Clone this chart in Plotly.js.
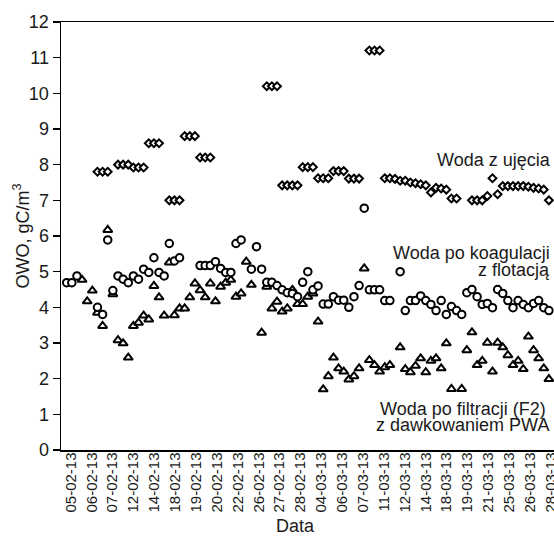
<!DOCTYPE html>
<html>
<head>
<meta charset="utf-8">
<script src="https://cdn.plot.ly/plotly-3.0.1.min.js"></script>
<style>html,body{margin:0;padding:0;overflow:hidden;background:#fff;width:554px;height:537px}</style>
</head>
<body>
<div id="chart" style="width:605px;height:537px"></div>
<script>
// Tick labels (dates)
const dateLabels = ["05-02-13","06-02-13","07-02-13","12-02-13","14-02-13","18-02-13","19-02-13","20-02-13","22-02-13","26-02-13","27-02-13","28-02-13","04-03-13","06-03-13","07-03-13","11-03-13","12-03-13","14-03-13","18-03-13","19-03-13","21-03-13","25-03-13","26-03-13","28-03-13"];

// Woda z ujęcia (diamonds), one value per sample (null = no measurement)
const wodaUjecie = [null,null,null,null,null,null,7.8,7.8,7.8,null,
  8.0,8.0,8.0,7.92,7.92,7.92,8.6,8.6,8.6,null,
  7.0,7.0,7.0,8.8,8.8,8.8,8.2,8.2,8.2,null,
  null,null,null,null,null,null,null,null,null,10.2,
  10.2,10.2,7.42,7.42,7.42,7.42,7.93,7.93,7.93,7.62,
  7.62,7.62,7.82,7.82,7.82,7.61,7.61,7.61,null,11.2,
  11.2,11.2,7.62,7.62,7.6,7.55,7.55,7.5,7.48,7.45,
  7.42,7.22,7.35,7.33,7.3,7.05,7.05,null,null,7.0,
  7.0,7.0,7.12,7.62,7.17,7.4,7.4,7.4,7.4,7.4,
  7.38,7.35,7.33,7.3,7.0];

// Woda po koagulacji z flotacją (circles)
const wodaKoagulacja = [4.69,4.69,4.88,null,null,null,4.0,3.8,5.89,4.47,
  4.88,4.79,4.69,4.88,4.79,5.07,4.98,5.39,4.98,4.88,
  5.79,5.3,5.39,null,null,null,5.17,5.17,5.17,5.28,
  5.09,4.98,4.98,5.79,5.89,null,5.07,5.7,5.07,4.7,
  4.7,4.61,4.49,4.41,4.39,4.3,4.7,5.0,4.49,4.6,
  4.09,4.09,4.3,4.2,4.2,4.0,4.3,4.61,6.78,4.49,
  4.49,4.49,4.19,4.19,null,5.0,3.91,4.19,4.19,4.32,
  4.19,4.08,3.91,4.19,3.8,4.02,3.91,3.8,4.41,4.5,
  4.3,4.08,4.11,3.99,4.5,4.39,4.19,3.99,4.19,4.08,
  3.99,4.11,4.19,3.99,3.91];

// Woda po filtracji (F2) z dawkowaniem PWA (triangles)
const wodaFiltracja = [null,null,null,4.77,4.17,4.47,3.85,3.48,6.17,4.37,
  3.08,2.99,2.59,3.48,3.57,3.77,3.66,4.6,4.28,3.77,
  5.26,3.78,3.97,3.97,4.28,4.67,4.48,4.28,4.67,4.17,
  4.58,4.69,4.77,4.3,4.39,5.28,4.63,null,3.29,4.58,
  3.97,4.16,3.88,3.97,4.49,4.09,4.09,4.3,4.39,3.6,
  1.70,2.07,2.59,2.29,2.2,1.98,2.07,2.29,5.09,2.52,
  2.38,2.2,2.32,2.38,null,2.88,2.27,2.18,2.36,2.57,
  2.18,2.5,2.57,2.29,2.99,1.71,null,1.71,2.8,3.3,
  2.38,2.5,3.01,2.2,3.01,2.88,2.66,2.38,2.5,2.27,
  3.18,2.8,2.57,2.29,1.99];

const sampleIndex = wodaUjecie.map((_, i) => i);

// layout constants
const FONT = "'Liberation Sans', Arial, sans-serif";
const TXT = '#1a1a1a';
const W = 605, H = 537;
const PL = 61, PT = 22, PB = 87;
const PW = W - PL, PH = H - PT - PB;
const TICK_START = 0.8, TICK_STEP = 4.07;
const tickPositions = dateLabels.map((_, k) => TICK_START + TICK_STEP * k);
const X0 = -1.11, PX_PER_SAMPLE = 5.13;

function mk(symbol, size) {
  return {symbol: symbol, size: size, color: '#fff', line: {color: '#000', width: 2}};
}

const traces = [
  {x: sampleIndex, y: wodaFiltracja, type: 'scatter', mode: 'markers', marker: mk('triangle-up', 8), hoverinfo: 'skip'},
  {x: sampleIndex, y: wodaKoagulacja, type: 'scatter', mode: 'markers', marker: mk('circle', 7.5), hoverinfo: 'skip'},
  {x: sampleIndex, y: wodaUjecie, type: 'scatter', mode: 'markers', marker: mk('diamond', 6), hoverinfo: 'skip'}
];

function ann(text, px, py, anchor, extra) {
  return Object.assign({
    text: text, xref: 'paper', yref: 'paper',
    x: (px - PL) / PW, y: (PT + PH - py) / PH,
    xanchor: anchor, yanchor: 'middle', showarrow: false, borderpad: 0,
    font: {family: FONT, size: 18, color: TXT}
  }, extra || {});
}

const layout = {
  width: W, height: H,
  margin: {l: PL, r: 0, t: PT, b: PB, pad: 0},
  paper_bgcolor: '#fff', plot_bgcolor: '#fff',
  showlegend: false,
  font: {family: FONT, color: TXT},
  xaxis: {
    range: [X0, X0 + PW / PX_PER_SAMPLE], showgrid: false, zeroline: false,
    showline: true, mirror: true, linecolor: '#000', linewidth: 1.5,
    ticks: '', tickmode: 'array', tickvals: tickPositions, ticktext: dateLabels,
    tickangle: -90, ticklabelstandoff: -5,
    tickfont: {family: FONT, size: 15, color: TXT}
  },
  yaxis: {
    range: [0, 12], dtick: 1, showgrid: false, zeroline: false,
    showline: true, linecolor: '#000', linewidth: 1.5,
    ticks: 'outside', ticklen: 7, tickwidth: 1.5, tickcolor: '#000',
    tickfont: {family: FONT, size: 18, color: TXT}
  },
  annotations: [
    ann('Woda z ujęcia', 552, 159.5, 'right'),
    ann('Woda po koagulacji', 551, 253.3, 'right'),
    ann('z flotacją', 551, 269.5, 'right'),
    ann('Woda po filtracji (F2)', 462.5, 408.5, 'center'),
    ann('z dawkowaniem PWA', 462.5, 425, 'center'),
    ann('OWO, gC/m<sup>3</sup>', 22, 236.5, 'center', {textangle: -90}),
    ann('Data', 295, 526, 'center')
  ]
};

Plotly.newPlot('chart', traces, layout, {staticPlot: true, displayModeBar: false});
</script>
</body>
</html>
